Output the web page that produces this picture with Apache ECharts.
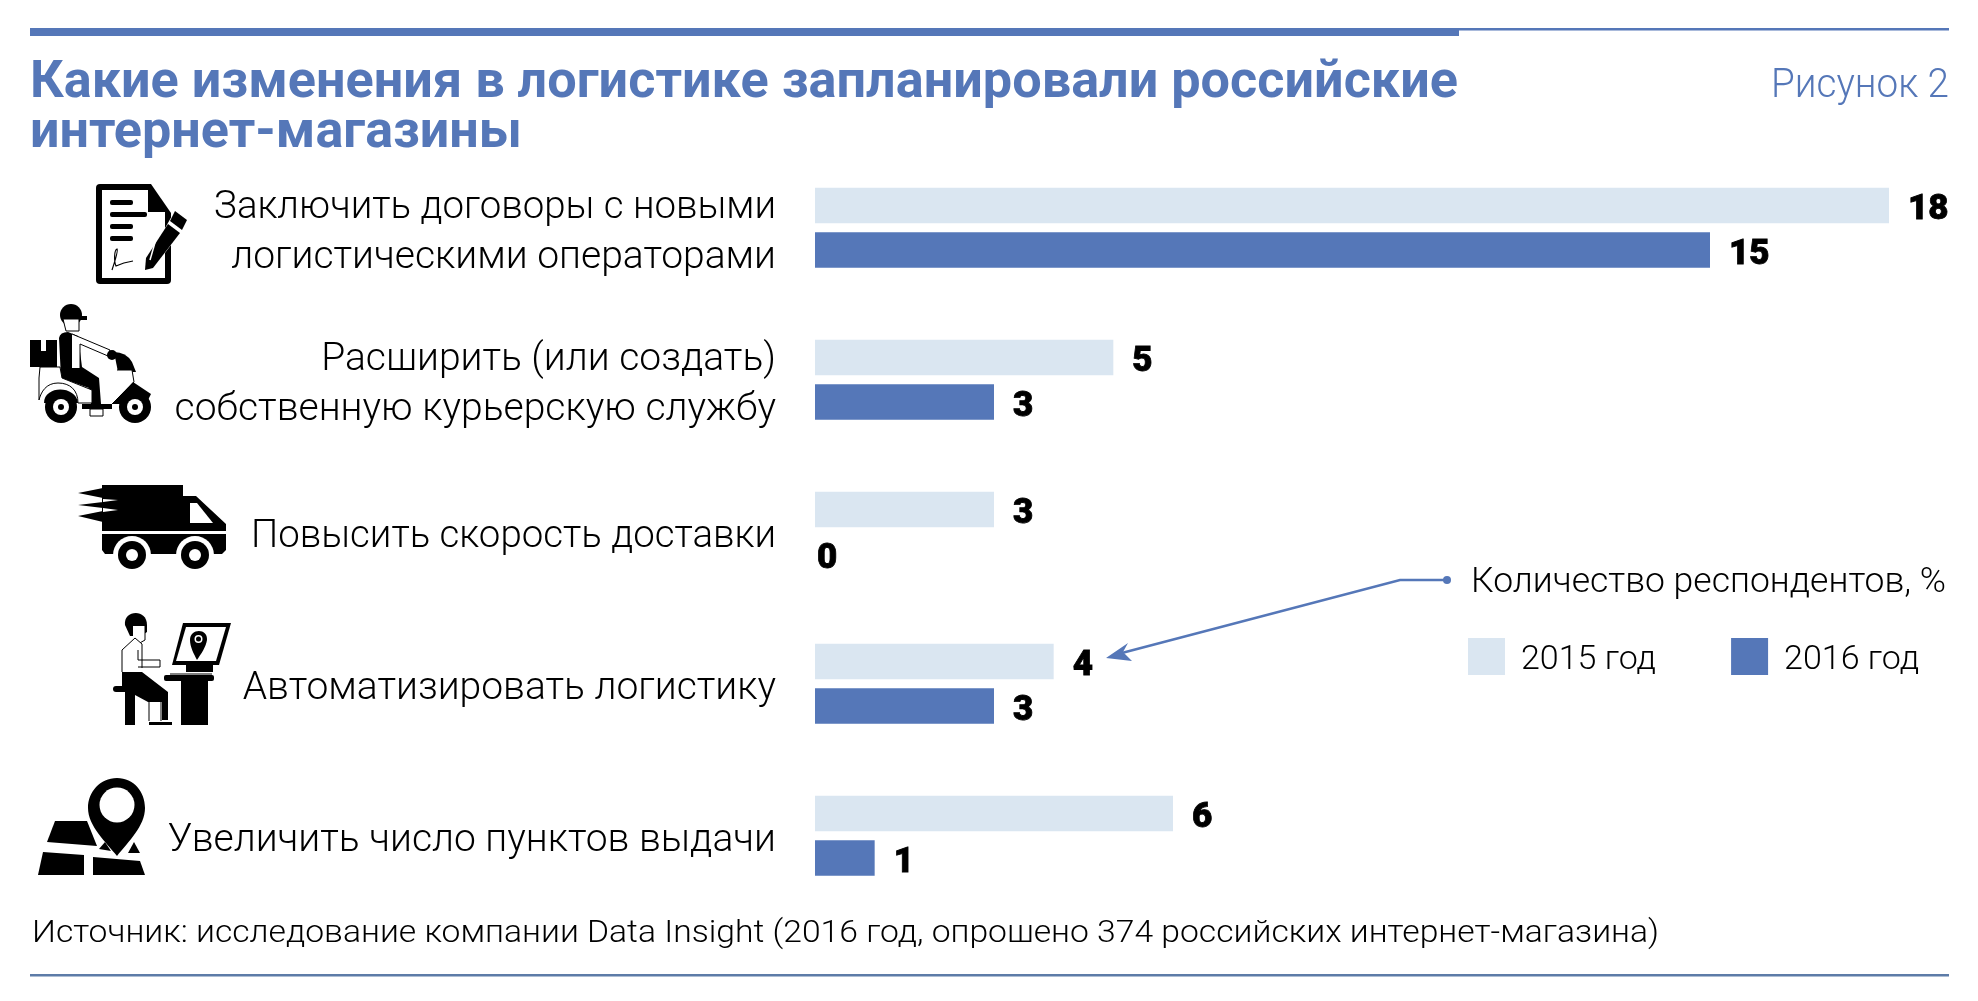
<!DOCTYPE html>
<html><head><meta charset="utf-8">
<style>html,body{margin:0;padding:0;background:#fff}#c{width:1978px;height:1001px}</style>
<script src="https://cdn.jsdelivr.net/npm/echarts@6/dist/echarts.min.js"></script>
</head><body><div id="c"></div>
<script>
const categories = [
  'Заключить договоры с новыми\nлогистическими операторами',
  'Расширить (или создать)\nсобственную курьерскую службу',
  'Повысить скорость доставки',
  'Автоматизировать логистику',
  'Увеличить число пунктов выдачи'
];
const values2015 = [18, 5, 3, 4, 6];
const values2016 = [15, 3, 0, 3, 1];
const seriesNames = ['2015 год', '2016 год'];
const titleLines = ['Какие изменения в логистике запланировали российские', 'интернет-магазины'];
const figureLabel = 'Рисунок 2';
const noteLabel = 'Количество респондентов, %';
const sourceLabel = 'Источник: исследование компании Data Insight (2016 год, опрошено 374 российских интернет-магазина)';

const BLUE = '#5577b8', PALE = '#dae6f1', INK = '#000';
const ctx = document.createElement('canvas').getContext('2d');
function fitted(text, x, base, width, size, weight, fill) {
  const font = weight + ' ' + size + 'px Roboto';
  ctx.font = font;
  const w = ctx.measureText(text).width, s = width / w;
  return {type:'text', silent:true, x:x, y:base - 0.33*size, scaleX:s, originX:0, originY:0,
    style:{text:text, font:font, fill:fill, align:'left', verticalAlign:'middle'}};
}
let shapeCount = 0;
function shapeType(d){
  const name = 'iconPath' + (shapeCount++);
  echarts.graphic.registerShape(name, echarts.graphic.extendPath(d));
  return name;
}
const P = (d, fill) => ({type:shapeType(d), silent:true, style:{fill:fill||INK}});
const L = (d, stroke, w) => ({type:shapeType(d), silent:true, style:{fill:'none', stroke:stroke||INK, lineWidth:w||1.5}});
const C = (x,y,r,fill) => ({type:'circle', silent:true, shape:{cx:x,cy:y,r:r}, style:{fill:fill||INK}});
const R = (x,y,w,h,fill,r) => ({type:'rect', silent:true, shape:{x:x,y:y,width:w,height:h,r:r||0}, style:{fill:fill||INK}});

const icons = [
  // document with pen
  P('M100,184H151L171,213V280Q171,284 167,284H100Q96,284 96,280V188Q96,184 100,184Z'),
  P('M102,190H148V212H165V278H102Z','#fff'),
  R(110,200,23,5,INK,2),R(110,212,37,5,INK,2),R(110,224,23,5,INK,2),R(110,236,23,5,INK,2),
  P('M173,214L187,224L152,270L145,272L146,262Z','#fff'),
  P('M175,211L187,220L182,230L170,221Z'),
  P('M168,224L180,233L153,268L145,270L146,258Z'),
  L('M158,232L150,260','#fff',1.5),
  L('M112,270C116,258 118,250 117,249C114,250 114,262 116,266C120,264 126,262 133,261',INK,1.2),
  // scooter
  C(71,315,11),P('M76,316H87V320H76Z'),P('M63,319H79V331H66Z','#fff'),L('M63,319H79V331H66Z',INK,1),
  P('M30,340H57V367H30Z'),R(41,340,5,11,'#fff'),
  P('M59,338Q60,332 68,332L78,336L82,367L99,378L101,404H91L89,388L61,378Z'),
  P('M72,334L110,350L108,356L80,344V368H72Z','#fff'),L('M72,334L110,350L108,356L80,344V368',INK,1),
  C(112,355,5),
  P('M40,367H60L62,378L92,390V403H78C78,390 70,383 58,383C46,383 41,392 39,400V378Z','#fff'),L('M40,367H60L62,378L92,390V403H78C78,390 70,383 58,383C46,383 41,392 39,400V378Z',INK,1),
  P('M44,403C44,385 76,385 78,403Z'),
  C(61,407,16),C(61,407,8,'#fff'),C(61,407,3),
  R(82,404,30,5),R(90,409,13,7,'#fff'),L('M90,409H103V416H90Z',INK,1),
  P('M114,352Q126,352 132,362L136,372H118Z'),
  P('M117,370H132L134,382L112,404H106Q120,388 117,370Z','#fff'),L('M117,370H132L134,382L112,404',INK,1),
  P('M112,404L133,382L151,394L146,404Z'),
  C(135,407,16),C(135,407,8,'#fff'),C(135,407,3),
  // truck
  P('M105,485H183V496H196L226,524V550L222,554H105L102,550V485Z'),
  P('M78,493L103,488V522L78,516L103,511L118,510L103,508L78,505L103,502L118,500L103,498Z'),
  P('M103,499L118,500L103,502Z','#fff'),P('M103,508L118,510L103,512Z','#fff'),
  P('M190,503H197L213,523H190Z','#fff'),
  R(100,531,127,3,'#fff'),
  C(132,555,19,'#fff'),C(195,555,19,'#fff'),
  C(132,555,14),C(132,555,6,'#fff'),C(195,555,14),C(195,555,6,'#fff'),
  // operator at a computer
  P('M125,625C123,610 147,608 147,625V632L141,636H130Z'),
  P('M133,626H145V640L138,644L133,640Z','#fff'),L('M145,626V640L138,644',INK,1),
  P('M122,650L135,638L142,644V680H122Z','#fff'),L('M122,672V650L135,638L142,644V668',INK,1),
  L('M138,650V660H160V667H138',INK,1),
  P('M122,672H142L168,692V720H148V702L122,688Z'),
  P('M148,702H162V720H148Z','#fff'),L('M149,702V721M161,700V721',INK,1),
  P('M149,722H172V725H149Z'),
  R(113,686,34,6,INK,3),R(125,692,10,33),
  P('M183,623H231L219,665H172Z'),P('M186,627H226L216,661H176Z','#fff'),
  P('M190,640C190,628 208,628 207,640C206,647 201,654 197,660C194,654 190,647 190,640Z'),C(198.5,639,4,'#fff'),C(198.5,639,2.5),
  R(186,665,27,7),P('M170,672H214V676H165Z','#fff'),L('M170,674H212',INK,1),
  R(164,675,50,6,INK,2),R(181,681,27,44),
  // pickup point
  P('M117,778C100,778 88,792 88,808C88,826 106,842 117,856C128,842 145,826 145,808C145,792 134,778 117,778Z'),
  C(117,805,17.5,'#fff'),
  P('M55,821H87L97,846L47,842Z'),
  P('M105,842L99,849L111,851Z'),
  P('M128,853L134,842L140,853Z'),
  P('M43,852L84,855V875H38Z'),
  P('M93,857L140,861L145,875H93Z')
];

const graphic = [
  R(30,28,1429,8,BLUE),
  R(30,28,1919,2.5,BLUE),
  R(30,974,1919,2.5,'#5d7ca8'),
  fitted(titleLines[0],30,101,1428,52,700,BLUE),
  fitted(titleLines[1],30,151,492,52,700,BLUE),
  fitted(figureLabel,1771,100,178,40,300,BLUE),
  fitted(noteLabel,1471,595,475,35,300,INK),
  fitted(sourceLabel,32,945,1627,32,300,INK),
  L('M1447,580H1400L1118,654',BLUE,2.5),
  C(1447,580,4,BLUE),
  P('M1106,658L1128,643L1123,652L1132,661Z',BLUE)
].concat(icons);

const valueLabel = {show:true, position:'right', distance:19, offset:[0,5], color:INK,
  fontFamily:'Roboto', fontWeight:900, fontSize:35,
  textBorderColor:INK, textBorderWidth:0.8};
const toData = arr => arr.map(v => v === 0 ? {value:v, label:{distance:2}} : v);
const labelLine = line => /^(Заключить|Повысить)/.test(line) ? '{b|' + line + '}' : '{a|' + line + '}';
const labelBase = {fontFamily:'Roboto', fontWeight:300, color:INK, lineHeight:50, padding:[12,0,0,0], align:'right'};

const chart = echarts.init(document.getElementById('c'), null, {width:1978, height:1001});
chart.setOption({
  animation:false, backgroundColor:'#fff',
  grid:{left:815, top:151.7, width:1074, height:760},
  xAxis:{type:'value', min:0, max:18, show:false},
  yAxis:{type:'category', inverse:true, data:categories,
    axisLine:{show:false}, axisTick:{show:false}, splitLine:{show:false},
    axisLabel:{margin:39, align:'right', color:INK,
      formatter:v => v.split('\n').map(labelLine).join('\n'),
      rich:{a:Object.assign({fontSize:39},labelBase), b:Object.assign({fontSize:38.4},labelBase)}}},
  legend:{left:1468, top:638, padding:0, itemWidth:37, itemHeight:37, itemGap:75, icon:'rect', selectedMode:false,
    data:seriesNames, formatter:n => '{t|' + n + '}',
    textStyle:{fontFamily:'Roboto', fontWeight:300, fontSize:34, color:INK,
      rich:{t:{fontFamily:'Roboto', fontWeight:300, fontSize:34, color:INK, padding:[8,0,0,11]}}}},
  series:[
    {name:seriesNames[0], type:'bar', data:toData(values2015), barWidth:35.5, barGap:'25%', itemStyle:{color:PALE}, label:valueLabel},
    {name:seriesNames[1], type:'bar', data:toData(values2016), barWidth:35.5, itemStyle:{color:BLUE}, label:valueLabel}
  ],
  graphic:{elements:graphic}
});
</script></body></html>
